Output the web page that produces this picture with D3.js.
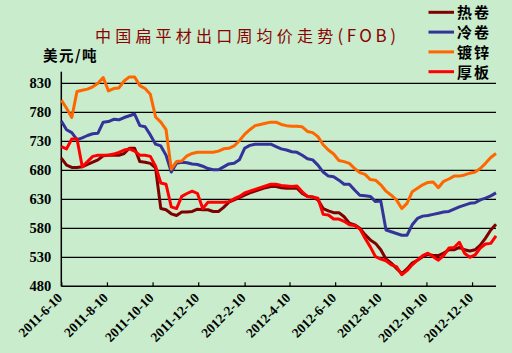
<!DOCTYPE html>
<html><head><meta charset="utf-8">
<script src="https://cdn.jsdelivr.net/npm/d3@7/dist/d3.min.js"></script>
<style>
html,body{margin:0;padding:0;background:#C8ECCC;}
svg{display:block;}
</style></head>
<body>
<svg id="c" width="512" height="353"></svg>
<script>
const dates = ["2011-06-10","2011-06-17","2011-06-24","2011-07-01","2011-07-08","2011-07-15","2011-07-22","2011-07-29","2011-08-05","2011-08-12",
"2011-08-19","2011-08-26","2011-09-02","2011-09-09","2011-09-16","2011-09-23","2011-09-30","2011-10-07","2011-10-14","2011-10-21",
"2011-10-28","2011-11-04","2011-11-11","2011-11-18","2011-11-25","2011-12-02","2011-12-09","2011-12-16","2011-12-23","2011-12-30",
"2012-01-06","2012-01-13","2012-01-20","2012-01-27","2012-02-03","2012-02-10","2012-02-17","2012-02-24","2012-03-02","2012-03-09",
"2012-03-16","2012-03-23","2012-03-30","2012-04-06","2012-04-13","2012-04-20","2012-04-27","2012-05-04","2012-05-11","2012-05-18",
"2012-05-25","2012-06-01","2012-06-08","2012-06-15","2012-06-22","2012-06-29","2012-07-06","2012-07-13","2012-07-20","2012-07-27",
"2012-08-03","2012-08-10","2012-08-17","2012-08-24","2012-08-31","2012-09-07","2012-09-14","2012-09-21","2012-09-28","2012-10-05",
"2012-10-12","2012-10-19","2012-10-26","2012-11-02","2012-11-09","2012-11-16","2012-11-23","2012-11-30","2012-12-07","2012-12-14",
"2012-12-21","2012-12-28","2013-01-04","2013-01-11"];

const hotRolled = [701,689,685,685,686,690,694,698,705,706,
706,706,709,718,718,695,694,692,684,614,
612,605,602,608,608,609,613,612,612,609,
609,616,625,629,633,637,641,644,647,650,
652,652,650,649,649,649,640,635,634,629,
614,610,607,607,600,589,586,580,569,560,
554,543,527,520,511,502,510,520,525,531,
535,533,533,537,543,543,547,543,541,543,
551,563,577,587];

const coldRolled = [765,750,745,733,736,740,743,744,763,764,
768,767,771,774,777,757,755,741,725,722,
706,677,692,694,693,691,690,687,683,681,
681,686,691,692,698,718,723,725,725,725,
725,721,717,715,712,711,706,700,698,689,
677,670,669,663,656,656,646,637,636,635,
626,627,577,574,571,568,568,586,597,601,
602,604,606,608,609,613,617,620,623,624,
629,632,636,641];

const galvanized = [801,787,771,816,818,820,824,830,840,817,
821,822,834,841,841,826,821,811,772,763,
750,682,695,696,705,709,711,711,711,711,
713,717,718,722,731,742,750,757,759,761,
763,763,759,757,756,756,755,747,745,738,
724,715,708,697,695,692,683,676,673,664,
663,655,644,637,629,614,623,643,649,655,
659,660,650,661,665,670,670,672,675,677,
683,692,702,709];

const plate = [721,717,734,734,686,695,704,706,706,706,
708,711,715,717,713,706,706,704,687,658,
656,617,614,635,640,644,640,614,625,625,
625,625,626,631,635,641,644,647,650,653,
656,656,654,653,652,653,643,635,634,632,
604,603,596,596,592,586,585,579,563,548,
531,527,524,517,514,500,507,517,525,533,
537,531,525,533,546,547,556,537,530,534,
546,553,554,567];

const seriesNames = ["热卷","冷卷","镀锌","厚板"];
const seriesColors = ["#800000","#333399","#FF6600","#FF0000"];
const yTicks = [480,530,580,630,680,730,780,830];
const xTickLabels = ["2011-6-10","2011-8-10","2011-10-10","2011-12-10","2012-2-10","2012-4-10","2012-6-10","2012-8-10","2012-10-10","2012-12-10"];
const titleMain = "中国扁平材出口周均价走势";
const titleTail = "(FOB)";
const yUnit = "美元/吨";

const parse = d3.timeParse("%Y-%m-%d");
const parseTick = d3.timeParse("%Y-%-m-%-d");
const xDates = dates.map(parse);
const allSeries = [hotRolled, coldRolled, galvanized, plate];

const svg = d3.select("#c");
svg.append("rect").attr("width",512).attr("height",353).attr("fill","#C8ECCC");

const L = 61.3, R = 496, T = 71.7, B = 286.3;
const x = d3.scaleTime().domain([parse("2011-06-10"), parse("2013-01-11")]).range([L, R]);
const y = d3.scaleLinear().domain([480, 850]).range([B, T]);

// gridlines
svg.append("g").selectAll("line").data(yTicks.filter(v => v > 480)).join("line")
  .attr("x1", L).attr("x2", R).attr("y1", d => y(d)).attr("y2", d => y(d))
  .attr("stroke", "#000").attr("stroke-width", 1.3);

// y axis
const yAxis = svg.append("g").attr("transform", `translate(${L},0)`)
  .call(d3.axisLeft(y).tickValues(yTicks).tickSize(0).tickPadding(10));
yAxis.select(".domain").attr("stroke", "#000").attr("stroke-width", 1.5).attr("d", `M0,${T}V${B}`);
yAxis.selectAll("text").attr("font-family", "Liberation Serif, serif").attr("font-weight", "bold")
  .attr("font-size", "14.5px").attr("fill", "#000");

// x axis
const tickDates = xTickLabels.map(parseTick);
const xAxis = svg.append("g").attr("transform", `translate(0,${B})`)
  .call(d3.axisBottom(x).tickValues(tickDates).tickSize(-4).tickFormat((d, i) => xTickLabels[i]));
xAxis.select(".domain").attr("stroke", "#000").attr("stroke-width", 1.5).attr("d", `M${L},0H${R}`);
xAxis.selectAll(".tick line").attr("stroke", "#000").attr("stroke-width", 1.2);
xAxis.selectAll("text")
  .attr("font-family", "Liberation Serif, serif").attr("font-weight", "bold").attr("font-size", "13.5px")
  .attr("fill", "#000").attr("text-anchor", "end")
  .attr("transform", "translate(-2,9) rotate(-45)").attr("dy", "0.35em").attr("y", 0).attr("x", 0);

// lines
const line = d3.line().x((d, i) => x(xDates[i])).y(d => y(d));
svg.append("g").selectAll("path").data(allSeries).join("path")
  .attr("d", d => line(d)).attr("fill", "none")
  .attr("stroke", (d, i) => seriesColors[i]).attr("stroke-width", 3)
  .attr("stroke-linejoin", "round").attr("stroke-linecap", "butt");

// title
const t = svg.append("text").attr("x", 95).attr("y", 41.5)
  .attr("font-family", "Noto Sans CJK SC, sans-serif").attr("font-size", "16px")
  .attr("fill", "#8B0000");
t.append("tspan").attr("letter-spacing", "4.2px").text(titleMain);
t.append("tspan").attr("letter-spacing", "3.5px").attr("font-size", "17px").text(titleTail);

// y unit
svg.append("text").attr("x", 43).attr("y", 61).text(yUnit)
  .attr("font-family", "Noto Sans CJK SC, sans-serif").attr("font-size", "14.5px").attr("font-weight", "bold")
  .attr("letter-spacing", "1.5px").attr("fill", "#000");

// legend
const lg = svg.append("g").selectAll("g").data(seriesNames).join("g")
  .attr("transform", (d, i) => `translate(0,${12.3 + i * 19.8})`);
lg.append("line").attr("x1", 428.5).attr("x2", 454).attr("y1", 0).attr("y2", 0)
  .attr("stroke", (d, i) => seriesColors[i]).attr("stroke-width", 3);
lg.append("text").attr("x", 457).attr("y", 6).text(d => d)
  .attr("font-family", "Noto Sans CJK SC, sans-serif").attr("font-size", "15px").attr("font-weight", "bold")
  .attr("letter-spacing", "2px").attr("fill", "#000");
</script>
</body></html>
